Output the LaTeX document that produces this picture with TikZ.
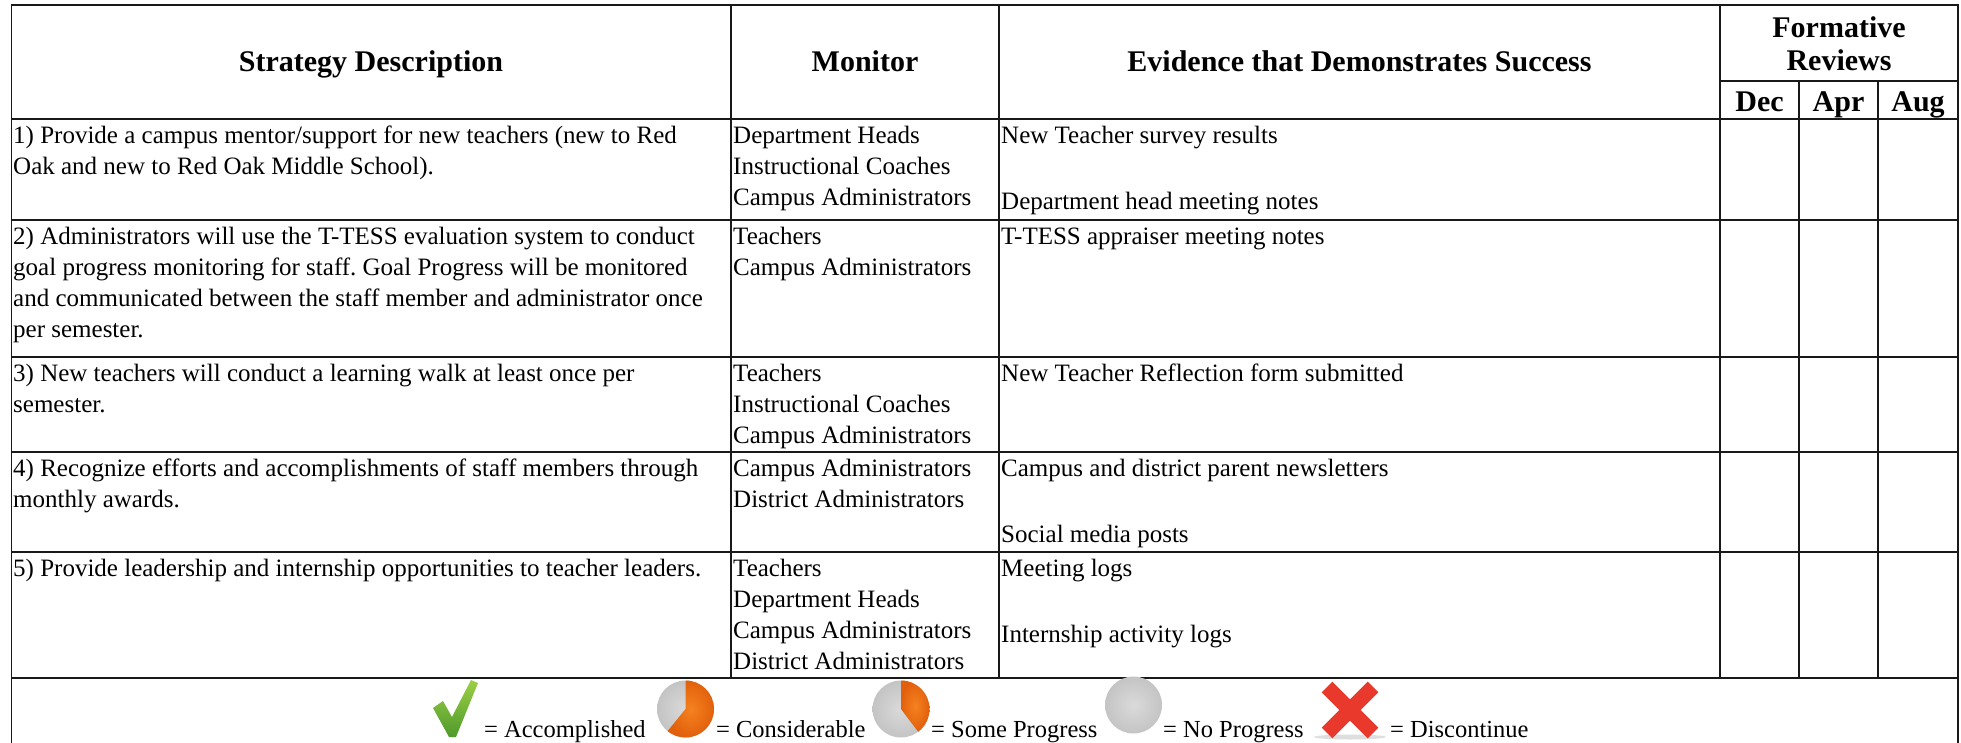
\documentclass[tikz,border=0pt]{standalone}
\usepackage{fontspec}
\setmainfont{Liberation Serif}
\frenchspacing
\newcommand{\bodyF}{\fontsize{25}{31}\selectfont}
\newcommand{\legF}{\fontsize{24.5}{29}\selectfont}
\newcommand{\headF}{\fontsize{30}{34}\selectfont\bfseries}
\definecolor{pieGrey}{HTML}{C4C4C4}
\definecolor{pieGreyL}{HTML}{DADADA}
\definecolor{pieOrange}{HTML}{F58220}
\definecolor{pieOrangeD}{HTML}{E2600C}
\definecolor{chkTop}{HTML}{9CCF45}
\definecolor{chkBot}{HTML}{4F9A2C}
\definecolor{xRed}{HTML}{E8392C}
\tikzset{
  grid/.style={line width=1.9pt, draw=black!90, line cap=rect},
  cell/.style={anchor=north west, inner sep=0pt, align=left, font=\bodyF},
  head/.style={anchor=base, inner sep=0pt, font=\headF},
  legtxt/.style={anchor=base west, inner sep=0pt, font=\legF},
}
\begin{document}
\begin{tikzpicture}[x=1pt,y=-1pt]
\useasboundingbox (0,0) rectangle (1961,743);
\fill[white] (0,0) rectangle (1961,743);
% grid
\foreach \yy in {5,119,220,357,452,552,678} \draw[grid] (11.5,\yy) -- (1958,\yy);
\draw[grid] (1720,81) -- (1958,81);
\foreach \xx in {11.5,1958} \draw[grid] (\xx,5) -- (\xx,745);
\foreach \xx in {731,999,1720} \draw[grid] (\xx,5) -- (\xx,678);
\foreach \xx in {1799,1878} \draw[grid] (\xx,81) -- (\xx,678);
% headers
\node[head] (hS) at (371,72) {Strategy Description};
\node[head] (hM) at (865,72) {Monitor};
\node[head] (hE) at (1359.5,72) {Evidence that Demonstrates Success};
\node[head] (hF1) at (1839,38) {Formative};
\node[head] (hF2) at (1839,71) {Reviews};
\node[head] (hD) at (1759.5,112) {Dec};
\node[head] (hA) at (1838.5,112) {Apr};
\node[head] (hG) at (1918,112) {Aug};
% strategy
\node[cell] (s1) at (13,121.8) {\strut 1) Provide a campus mentor/support for new teachers (new to Red\\Oak and new to Red Oak Middle School).};
\node[cell] (s2) at (13,222.8) {\strut 2) Administrators will use the T-TESS evaluation system to conduct\\goal progress monitoring for staff. Goal Progress will be monitored\\and communicated between the staff member and administrator once\\per semester.};
\node[cell] (s3) at (13,359.8) {\strut 3) New teachers will conduct a learning walk at least once per\\semester.};
\node[cell] (s4) at (13,454.8) {\strut 4) Recognize efforts and accomplishments of staff members through\\monthly awards.};
\node[cell] (s5) at (13,554.8) {\strut 5) Provide leadership and internship opportunities to teacher leaders.};
% monitor
\node[cell] (m1) at (733,121.8) {\strut Department Heads\\Instructional Coaches\\Campus Administrators};
\node[cell] (m2) at (733,222.8) {\strut Teachers\\Campus Administrators};
\node[cell] (m3) at (733,359.8) {\strut Teachers\\Instructional Coaches\\Campus Administrators};
\node[cell] (m4) at (733,454.8) {\strut Campus Administrators\\District Administrators};
\node[cell] (m5) at (733,554.8) {\strut Teachers\\Department Heads\\Campus Administrators\\District Administrators};
% evidence
\node[cell] (e1) at (1001,121.8) {\strut New Teacher survey results\\[35pt]Department head meeting notes};
\node[cell] (e2) at (1001,222.8) {\strut T-TESS appraiser meeting notes};
\node[cell] (e3) at (1001,359.8) {\strut New Teacher Reflection form submitted};
\node[cell] (e4) at (1001,454.8) {\strut Campus and district parent newsletters\\[35pt]Social media posts};
\node[cell] (e5) at (1001,554.8) {\strut Meeting logs\\[35pt]Internship activity logs};
% legend
\shade[top color=chkTop, bottom color=chkBot] (433,708) -- (443,701) -- (452,717) -- (471,680) -- (478,683) -- (456,737) -- (449,737) -- cycle;
\node[legtxt] (l1) at (484,737) {= Accomplished};
\begin{scope}[shift={(685.5,709)}, yscale=-1]
  \shade[inner color=pieGreyL, outer color=pieGrey] (0,0) circle (28.5);
  \shade[inner color=pieOrange, outer color=pieOrangeD] (0,0) -- (90:28.5) arc[start angle=90, end angle=-129, radius=28.5] -- cycle;
\end{scope}
\node[legtxt] (l2) at (716,737) {= Considerable};
\begin{scope}[shift={(901,709)}, yscale=-1]
  \shade[inner color=pieGreyL, outer color=pieGrey] (0,0) circle (28.5);
  \shade[inner color=pieOrange, outer color=pieOrangeD] (0,0) -- (90:28.5) arc[start angle=90, end angle=-53, radius=28.5] -- cycle;
\end{scope}
\node[legtxt] (l3) at (931,737) {= Some Progress};
\begin{scope}[shift={(1133.5,709)}, yscale=-1]
  \shade[inner color=pieGreyL, outer color=pieGrey] (0,4) circle (28.5);
\end{scope}
\node[legtxt] (l4) at (1163,737) {= No Progress};
\begin{scope}[shift={(1350,710)}, yscale=-1]
  \fill[black!25, opacity=0.5] (0,-27) ellipse (36 and 2.5);
  \draw[line width=15pt, xRed] (-23,23) -- (23,-23);
  \draw[line width=15pt, xRed] (23,23) -- (-23,-23);
\end{scope}
\node[legtxt] (l5) at (1390,737) {= Discontinue};
\end{tikzpicture}
\end{document}
